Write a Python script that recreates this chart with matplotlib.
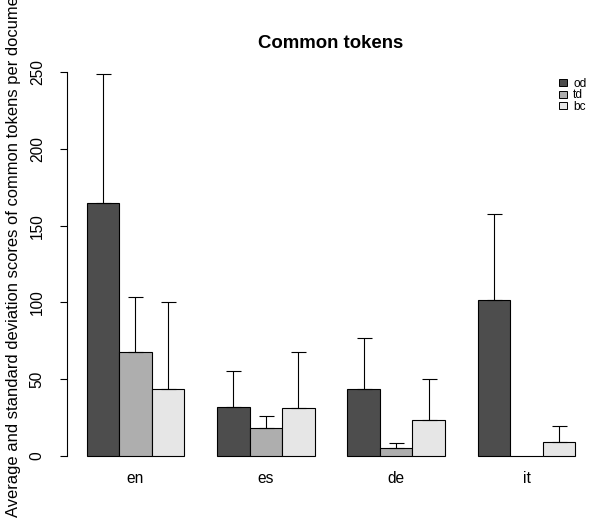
import numpy as np
import matplotlib
matplotlib.use("Agg")
import matplotlib.pyplot as plt
from matplotlib.patches import Patch

plt.rcParams["font.family"] = ["Liberation Sans", "DejaVu Sans"]

# mean and sd of common tokens per document
langs = ["en", "es", "de", "it"]
series = ["od", "td", "bc"]
od_mean = [164.5, 32.1, 43.4, 101.6]
od_sd = [84.4, 23.4, 33.4, 56.1]
td_mean = [67.9, 18.0, 5.4, 0.0]
td_sd = [35.4, 8.2, 2.9, 0.0]
bc_mean = [43.4, 31.5, 23.2, 9.1]
bc_sd = [57.1, 36.5, 26.8, 10.6]

means = [od_mean, td_mean, bc_mean]
sds = [od_sd, td_sd, bc_sd]
colors = ["#4D4D4D", "#AEAEAE", "#E6E6E6"]

W, H = 593, 519
fig = plt.figure(figsize=(W / 100, H / 100), dpi=100)
ax = fig.add_axes([67 / W, (H - 471.4) / H, 528 / W, 414.6 / H])

for s in range(3):
    x = np.array([1 + 4 * g + s + 0.5 for g in range(len(langs))])
    ax.bar(x, means[s], width=1, color=colors[s], edgecolor="black", linewidth=0.8)
    m = np.array(means[s])
    sd = np.array(sds[s])
    keep = sd > 0
    ax.errorbar(x[keep], m[keep], yerr=[np.zeros(keep.sum()), sd[keep]],
                fmt="none", ecolor="black", elinewidth=0.8, capsize=5.4, capthick=0.8)

ax.set_xlim(0.4, 16.6)
ax.set_ylim(-10, 260)
ax.set_xticks([2.5 + 4 * g for g in range(len(langs))])
ax.set_xticklabels(langs, fontsize=11.2)
ax.tick_params(axis="x", length=0, pad=0)
ax.set_yticks([0, 50, 100, 150, 200, 250])
ax.tick_params(axis="y", length=5, width=0.8, pad=11, labelsize=11.2)
for lab in ax.get_yticklabels():
    lab.set_rotation(90)
    lab.set_va("center")
for side in ["top", "right", "bottom"]:
    ax.spines[side].set_visible(False)
ax.spines["left"].set_bounds(0, 250)
ax.spines["left"].set_linewidth(0.8)

fig.text(331 / W, (H - 48) / H, "Common tokens", ha="center", va="baseline",
         fontsize=13.4, fontweight="bold")
fig.text(21 / W, 2 / H, "Average and standard deviation scores of common tokens per document",
         rotation=90, ha="right", va="bottom", fontsize=11.9)

handles = [Patch(facecolor=c, edgecolor="black", linewidth=0.7) for c in colors]
fig.legend(handles, series, loc="upper left", bbox_to_anchor=(559 / W, (H - 78) / H),
           frameon=False, fontsize=8.6, handlelength=0.7, handleheight=0.55,
           labelspacing=-0.05, borderpad=0, borderaxespad=0, handletextpad=0.5)

fig.savefig("out.png", dpi=100)
